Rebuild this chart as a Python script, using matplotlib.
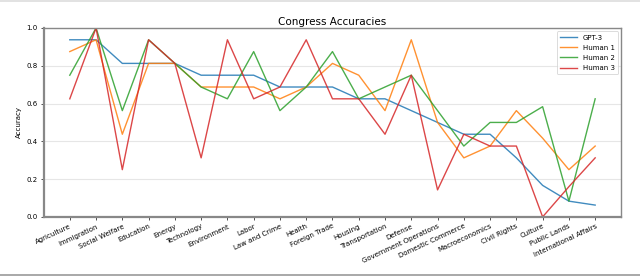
import numpy as np
import matplotlib
matplotlib.use("Agg")
import matplotlib.pyplot as plt
from matplotlib.lines import Line2D

topics = ["Agriculture", "Immigration", "Social Welfare", "Education", "Energy",
          "Technology", "Environment", "Labor", "Law and Crime", "Health",
          "Foreign Trade", "Housing", "Transportation", "Defense",
          "Government Operations", "Domestic Commerce", "Macroeconomics",
          "Civil Rights", "Culture", "Public Lands", "International Affairs"]

gpt3 = [0.9375, 0.9375, 0.8125, 0.8125, 0.8125, 0.75, 0.75, 0.75, 0.6875, 0.6875,
        0.6875, 0.625, 0.625, 0.5625, 0.5, 0.4375, 0.4375, 0.3125, 0.1667, 0.0833, 0.0625]
human1 = [0.875, 0.9375, 0.4375, 0.8125, 0.8125, 0.6875, 0.6875, 0.6875, 0.625, 0.6875,
          0.8125, 0.75, 0.5625, 0.9375, 0.5, 0.3125, 0.375, 0.5625, 0.4167, 0.25, 0.375]
human2 = [0.75, 1.0, 0.5625, 0.9375, 0.8125, 0.6875, 0.625, 0.875, 0.5625, 0.6875,
          0.875, 0.625, 0.6875, 0.75, 0.5625, 0.375, 0.5, 0.5, 0.5833, 0.0833, 0.625]
human3 = [0.625, 1.0, 0.25, 0.9375, 0.8125, 0.3125, 0.9375, 0.625, 0.6875, 0.9375,
          0.625, 0.625, 0.4375, 0.75, 0.1429, 0.4375, 0.375, 0.375, 0.0, 0.16, 0.3125]

series = {"GPT-3": gpt3, "Human 1": human1, "Human 2": human2, "Human 3": human3}
colors = ["#1f77b4", "#ff7f0e", "#2ca02c", "#d62728"]

fig = plt.figure(figsize=(6.4, 2.77), dpi=100)
ax = fig.add_axes([0.068, 0.217, 0.903, 0.682])

x = np.arange(len(topics))
for (name, vals), c in zip(series.items(), colors):
    ax.plot(x, vals, color=c, lw=1.0, alpha=0.85, label=name)

ax.set_ylim(0, 1.0)
ax.set_yticks([0.0, 0.2, 0.4, 0.6, 0.8, 1.0])
ax.set_xticks(x)
ax.set_xticklabels(topics, rotation=25, ha="right", rotation_mode="anchor")
ax.tick_params(labelsize=5, length=2.5, width=0.6, pad=2, color="#333333")
ax.grid(axis="y", color="#e6e6e6", lw=0.8)
ax.set_axisbelow(True)
for s in ax.spines.values():
    s.set_color("#888888")
    s.set_linewidth(1.0)
ax.spines["left"].set_linewidth(1.6)
ax.spines["bottom"].set_linewidth(1.6)

ax.set_title("Congress Accuracies", fontsize=7.5, pad=2)
ax.set_ylabel("Accuracy", fontsize=5, labelpad=3)
leg = ax.legend(loc="upper right", fontsize=5, frameon=True, borderpad=0.45,
                handlelength=2.5, labelspacing=0.6)
leg.get_frame().set_edgecolor("#cccccc")
leg.get_frame().set_linewidth(0.6)

# thin border lines at top and bottom of the image
fig.add_artist(Line2D([0, 1], [0.996, 0.996], transform=fig.transFigure,
                      color="#dddddd", lw=1.2))
fig.add_artist(Line2D([0, 1], [0.007, 0.007], transform=fig.transFigure,
                      color="#999999", lw=1.2))

fig.savefig("out.png", dpi=100)
